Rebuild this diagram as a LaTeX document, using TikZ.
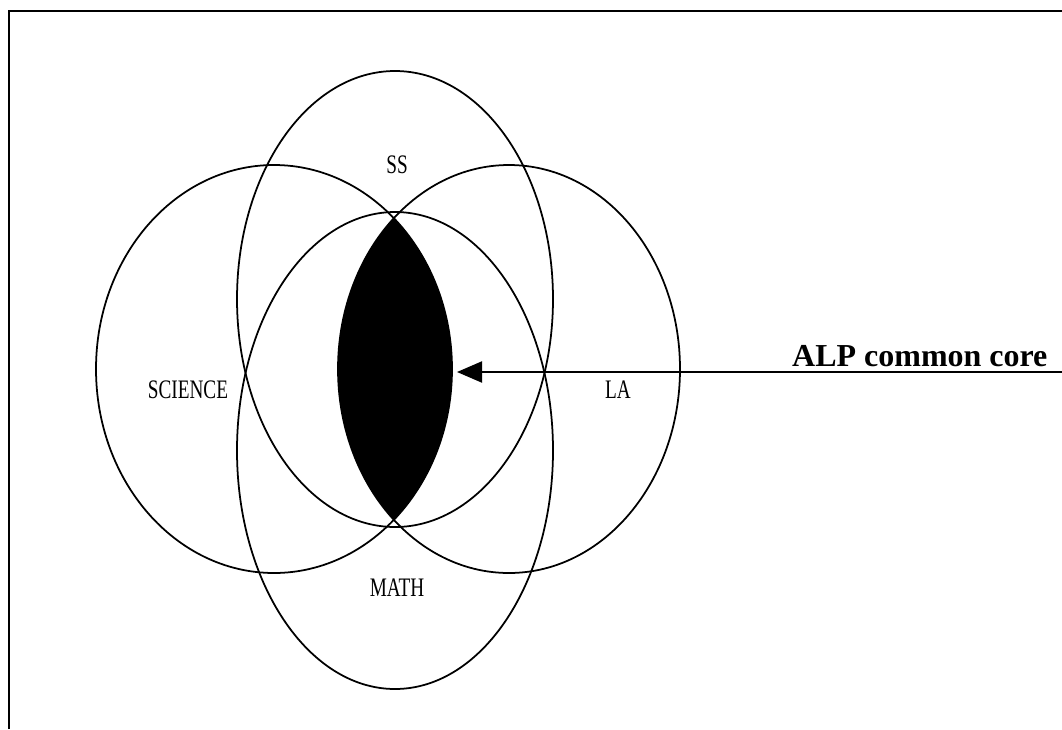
\documentclass[tikz,border=0pt]{standalone}
\usepackage{fontspec}
\setmainfont{Liberation Serif}
\newfontfamily\narrowserif[FakeStretch=0.72]{Liberation Serif}
\usetikzlibrary{arrows.meta}

\begin{document}
\begin{tikzpicture}[subject/.style = {font = \narrowserif\fontsize{7.6}{8}\selectfont}, line width = 0.5pt]

	\useasboundingbox (0,0) rectangle (10.62,7.29);

	% frame
	\draw[line width = 0.7pt] (0.09,0) -- (0.09,7.18) -- (10.62,7.18);

	% common core
	\begin{scope}
		\clip (2.74,3.60) ellipse (1.78 and 2.04);
		\clip (5.09,3.60) ellipse (1.71 and 2.04);
		\clip (3.95,2.785) ellipse (1.58 and 2.385);
		\fill (3.95,4.30) ellipse (1.58 and 2.28);
	\end{scope}

	\draw (2.74,3.60) ellipse (1.78 and 2.04);
	\draw (5.09,3.60) ellipse (1.71 and 2.04);
	\draw (3.95,4.30) ellipse (1.58 and 2.28);
	\draw (3.95,2.785) ellipse (1.58 and 2.385);

	\node[subject] (ss) at (3.97,5.64) {SS};
	\node[subject] (science) at (1.88,3.39) {SCIENCE};
	\node[subject] (la) at (6.18,3.39) {LA};
	\node[subject] (math) at (3.97,1.41) {MATH};

	\coordinate (edge) at (10.62,3.57);
	\coordinate (core) at (4.57,3.57);
	\draw[line width = 0.6pt, -{Triangle[length=2.5mm, width=2.1mm]}] (edge) -- (core);
	\node[anchor = base east, font = \bfseries\fontsize{9.1}{10}\selectfont] (alp) at (10.60,3.63) {ALP common core};

\end{tikzpicture}
\end{document}
